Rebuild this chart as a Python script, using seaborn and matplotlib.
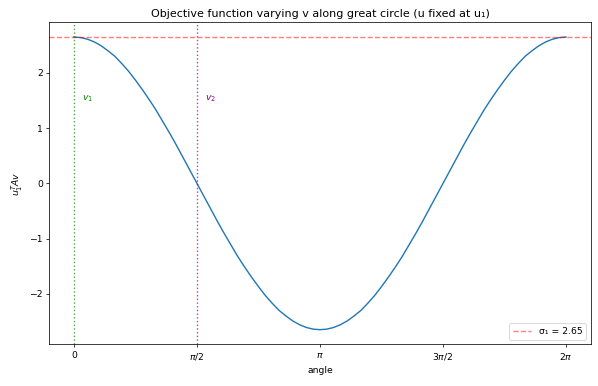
import numpy as np
import pandas as pd
import seaborn as sns
import matplotlib.pyplot as plt

# objective value, every 5 degrees from 0 to 360
objective = [2.65, 2.64, 2.61, 2.56, 2.49, 2.40, 2.30, 2.17, 2.03, 1.87, 1.70, 1.52,
             1.33, 1.12, 0.91, 0.69, 0.46, 0.23, 0.00, -0.23, -0.46, -0.69, -0.91, -1.12,
             -1.33, -1.52, -1.70, -1.87, -2.03, -2.17, -2.30, -2.40, -2.49, -2.56, -2.61, -2.64,
             -2.65, -2.64, -2.61, -2.56, -2.49, -2.40, -2.30, -2.17, -2.03, -1.87, -1.70, -1.52,
             -1.33, -1.12, -0.91, -0.69, -0.46, -0.23, 0.00, 0.23, 0.46, 0.69, 0.91, 1.12,
             1.33, 1.52, 1.70, 1.87, 2.03, 2.17, 2.30, 2.40, 2.49, 2.56, 2.61, 2.64, 2.65]
angle_step = np.pi / 36
sigma1 = 2.65
v_marks = [0.0, np.pi / 2]
v_labels = ['$v_1$', '$v_2$']
v_colors = ['green', 'purple']
tick_pos = [0, np.pi / 2, np.pi, 3 * np.pi / 2, 2 * np.pi]
tick_labels = ['0', r'$\pi/2$', r'$\pi$', r'$3\pi/2$', r'$2\pi$']

df = pd.DataFrame({'angle': np.arange(len(objective)) * angle_step, 'value': objective})

dpi = 67
fig = plt.figure(figsize=(598 / dpi, 386 / dpi), dpi=dpi)
ax = fig.add_axes([0.0824, 0.108, 0.9054, 0.834])

sns.lineplot(data=df, x='angle', y='value', ax=ax, color='C0')
ax.axhline(sigma1, color='red', linestyle='--', alpha=0.5, label=f'σ₁ = {sigma1:.2f}')
for pos, lab, col in zip(v_marks, v_labels, v_colors):
    ax.axvline(pos, color=col, linestyle=':', alpha=0.7)
    ax.text(pos + 0.1, 1.5, lab, color=col)

ax.set_xticks(tick_pos)
ax.set_xticklabels(tick_labels)
ax.set_xlabel('angle')
ax.set_ylabel(r'$u_1^T A v$')
ax.set_title('Objective function varying v along great circle (u fixed at u₁)')
ax.legend(loc='lower right')

fig.savefig('out.png', dpi=dpi)
